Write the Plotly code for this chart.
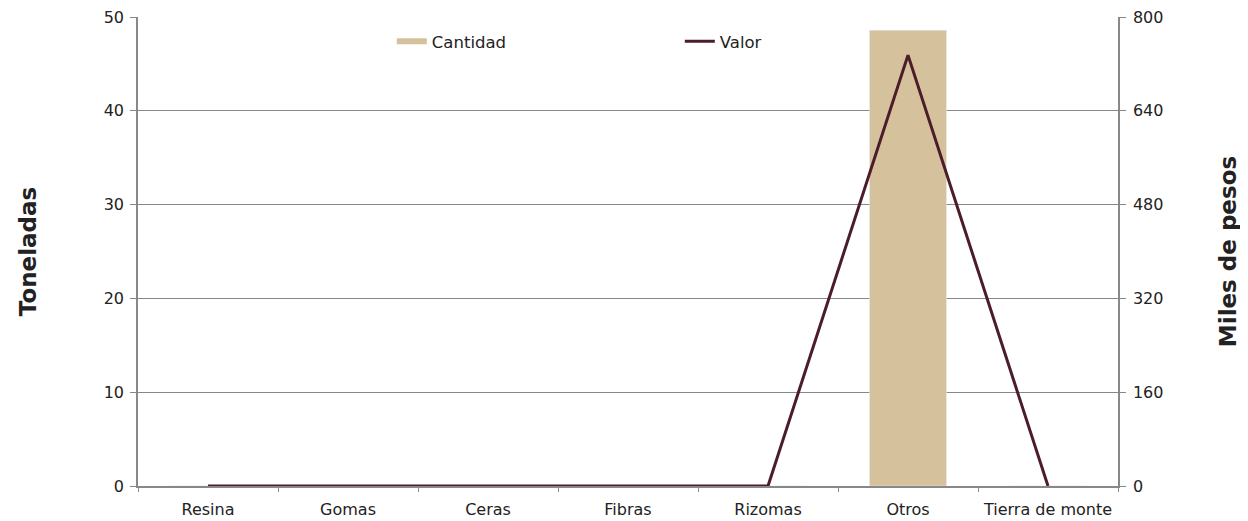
import plotly.graph_objects as go

# Categorías y valores
categorias = ["Resina", "Gomas", "Ceras", "Fibras", "Rizomas", "Otros", "Tierra de monte"]
cantidad = [0, 0, 0, 0, 0, 48.6, 0]        # toneladas
valor = [0, 0, 0, 0, 0, 735, 0]            # miles de pesos

color_bar = "#D5C19B"
color_line = "#4B1C2A"
font_family = "DejaVu Sans, sans-serif"

fig = go.Figure()

fig.add_trace(go.Bar(
    x=categorias, y=cantidad, name="Cantidad",
    marker_color=color_bar, width=0.55, showlegend=False,
))
# entrada de leyenda con trazo de línea, como en el original
fig.add_trace(go.Scatter(
    x=[None], y=[None], mode="lines", name="Cantidad",
    line=dict(color=color_bar, width=6),
))
fig.add_trace(go.Scatter(
    x=categorias, y=valor, name="Valor", mode="lines",
    line=dict(color=color_line, width=3), yaxis="y2",
))

# la página tiene 8px de margen en el body, se compensa aquí
fig.update_layout(
    width=1248, height=521,
    margin=dict(l=130, r=138, t=9, b=43),
    paper_bgcolor="white", plot_bgcolor="white",
    font=dict(family=font_family, size=15, color="#222"),
    legend=dict(
        orientation="h", x=0.259, xanchor="left", y=0.985, yanchor="top",
        entrywidth=243, entrywidthmode="pixels",
        font=dict(size=16.5, color="#222"), bgcolor="rgba(0,0,0,0)",
    ),
    xaxis=dict(
        automargin=False,
        showline=True, linecolor="#888", linewidth=1.5,
        ticks="outside", ticklen=4, tickcolor="#888",
        tickson="boundaries", showgrid=False,
        tickfont=dict(size=16), ticklabelstandoff=8,
    ),
    yaxis=dict(
        automargin=False, ticklabeloverflow="allow",
        range=[0, 50], tickvals=[0, 10, 20, 30, 40, 50],
        showline=True, linecolor="#888", linewidth=1.5,
        ticks="outside", ticklen=6, tickcolor="#888",
        gridcolor="#888", gridwidth=1.2, zeroline=False,
        tickfont=dict(size=16), ticklabelstandoff=3,
        title=dict(text="<b>Toneladas</b>", font=dict(size=23), standoff=61),
    ),
    yaxis2=dict(
        automargin=False, ticklabeloverflow="allow",
        overlaying="y", side="right",
        range=[0, 800], tickvals=[0, 160, 320, 480, 640, 800],
        showline=True, linecolor="#888", linewidth=1.5,
        ticks="outside", ticklen=6, tickcolor="#888",
        showgrid=False, zeroline=False,
        tickfont=dict(size=16), ticklabelstandoff=4,
        title=dict(text="<b>Miles de pesos</b>", font=dict(size=23), standoff=57),
    ),
)

fig.write_html("out.html")
